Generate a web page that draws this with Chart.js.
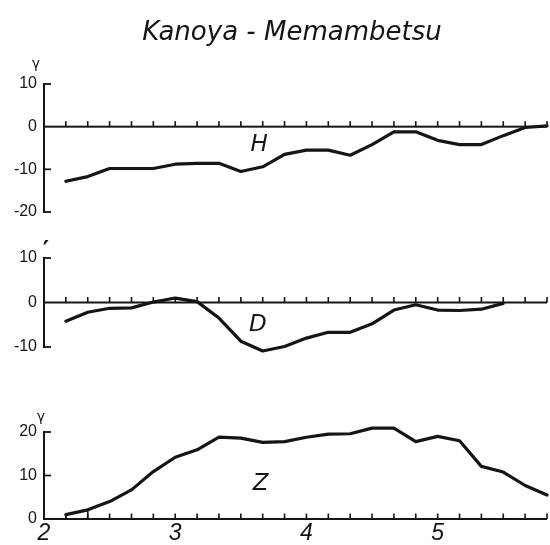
<!DOCTYPE html>
<html><head><meta charset="utf-8">
<script src="https://cdn.jsdelivr.net/npm/chart.js@4.4.1/dist/chart.umd.min.js"></script>
<style>
html,body{margin:0;padding:0;background:#fff;}
#wrap{position:relative;width:550px;height:545px;background:#fff;}
.pane{position:absolute;left:0;width:550px;}
</style></head><body>
<div id="wrap">
<div class="pane" style="top:0;height:230px"><canvas id="cH"></canvas></div>
<div class="pane" style="top:230px;height:150px"><canvas id="cD"></canvas></div>
<div class="pane" style="top:380px;height:165px"><canvas id="cZ"></canvas></div>
</div>
<script>
// ---- data ----
const chartTitle = 'Kanoya - Memambetsu';
const times = [2.1667, 2.3333, 2.5, 2.6667, 2.8333, 3.0, 3.1667, 3.3333, 3.5, 3.6667, 3.8333, 4.0,
               4.1667, 4.3333, 4.5, 4.6667, 4.8333, 5.0, 5.1667, 5.3333, 5.5, 5.6667, 5.8333];
const hValues = [-12.8, -11.7, -9.8, -9.8, -9.8, -8.8, -8.6, -8.6, -10.5, -9.4, -6.5, -5.5,
                 -5.5, -6.7, -4.2, -1.2, -1.2, -3.2, -4.2, -4.2, -2.1, -0.2, 0.2];
const dValues = [-4.2, -2.2, -1.3, -1.2, 0.1, 1.0, 0.2, -3.5, -8.7, -10.9, -9.9, -8.0,
                 -6.7, -6.7, -4.8, -1.7, -0.5, -1.7, -1.8, -1.5, -0.2];
const zValues = [1.0, 2.1, 4.0, 6.7, 10.9, 14.2, 15.9, 18.8, 18.6, 17.6, 17.8, 18.8,
                 19.5, 19.6, 20.9, 20.9, 17.8, 19.0, 18.0, 12.1, 10.8, 7.7, 5.5];
const hTicks = [10, 0, -10, -20];
const dTicks = [10, 0, -10];
const zTicks = [20, 10, 0];
const xTicks = [2, 3, 4, 5];
const xMin = 2, xMax = 5.8333;

const ink = '#151515';
const toPts = vals => vals.map((v, i) => ({x: times[i], y: v}));

const decor = {
  id: 'decor',
  afterDraw(chart, args, o) {
    const ctx = chart.ctx, xs = chart.scales.x, ys = chart.scales.y;
    ctx.save();
    ctx.fillStyle = ink;
    const vbar = (x, ya, yb, w) => ctx.fillRect(x - w / 2, Math.min(ya, yb), w, Math.abs(yb - ya));
    const hbar = (xa, xb, y, w) => ctx.fillRect(Math.min(xa, xb), y - w / 2, Math.abs(xb - xa), w);
    const x0 = xs.getPixelForValue(xMin), x1 = xs.getPixelForValue(xMax);
    const yTop = ys.getPixelForValue(o.yTicks[0]);
    const yBot = ys.getPixelForValue(o.yTicks[o.yTicks.length - 1]);
    const y0 = ys.getPixelForValue(0);
    vbar(x0, yTop - 1, yBot + 1, 2);
    o.yTicks.forEach(v => { if (v !== 0) hbar(x0, x0 + 7, ys.getPixelForValue(v), 1.8); });
    hbar(x0, x1, y0, 2);
    times.forEach(t => vbar(xs.getPixelForValue(t), y0, y0 - 5.5, 1.6));
    if (o.boxFirst) {
      [0, 1].forEach(i => vbar(xs.getPixelForValue(times[i]), ys.getPixelForValue(zValues[i]), y0, 1.6));
    }
    ctx.textAlign = 'center'; ctx.textBaseline = 'middle';
    ctx.font = o.unitFont;
    ctx.fillText(o.unit, x0 + o.unitDx, yTop + o.unitDy);
    ctx.font = 'italic 23px "DejaVu Sans", sans-serif';
    ctx.fillText(o.letter, xs.getPixelForValue(o.letterAt[0]), ys.getPixelForValue(o.letterAt[1]));
    if (o.title) {
      ctx.font = 'italic 26px "DejaVu Sans", sans-serif';
      ctx.textBaseline = 'alphabetic';
      ctx.fillText(o.title, 292, 40);
    }
    ctx.restore();
  }
};

function makePanel(id, values, yTicks, pad, decorOpts, showX) {
  return new Chart(document.getElementById(id), {
    type: 'line',
    data: { datasets: [{
      data: toPts(values), borderColor: ink, borderWidth: 3.2, pointRadius: 0,
      tension: 0, fill: false, clip: false, borderJoinStyle: 'round', borderCapStyle: 'round'
    }]},
    options: {
      responsive: true, maintainAspectRatio: false, animation: false,
      layout: { padding: pad },
      plugins: { legend: {display: false}, tooltip: {enabled: false}, title: {display: false}, decor: decorOpts },
      scales: {
        x: {
          type: 'linear', min: xMin, max: xMax, display: showX,
          grid: {display: false, drawTicks: false}, border: {display: false},
          ticks: { color: ink, padding: 1, font: {family: '"Liberation Sans", sans-serif', size: 23, style: 'italic'} },
          afterBuildTicks: s => { s.ticks = xTicks.map(v => ({value: v})); },
          afterFit: s => { if (showX) s.height = 26; }
        },
        y: {
          type: 'linear', min: Math.min(...yTicks), max: Math.max(...yTicks),
          grid: {display: false, drawTicks: false}, border: {display: false},
          ticks: { color: ink, padding: 7, font: {family: '"Liberation Sans Narrow", "Liberation Sans", sans-serif', size: 16} },
          afterBuildTicks: s => { s.ticks = yTicks.map(v => ({value: v})); },
          afterFit: s => { s.width = 44; }
        }
      }
    },
    plugins: [decor]
  });
}

makePanel('cH', hValues, hTicks, {top: 84, bottom: 18, left: 0, right: 3},
  {yTicks: hTicks, unit: 'γ', unitFont: '14px "DejaVu Sans", sans-serif', unitDx: -8, unitDy: -20,
   letter: 'H', letterAt: [3.64, -4.2], title: chartTitle}, false);
makePanel('cD', dValues, dTicks, {top: 28, bottom: 33, left: 0, right: 3},
  {yTicks: dTicks, unit: '′', unitFont: 'bold 24px "DejaVu Sans", sans-serif', unitDx: 2, unitDy: -6,
   letter: 'D', letterAt: [3.63, -5.1]}, false);
makePanel('cZ', zValues, zTicks, {top: 52, bottom: 0, left: 0, right: 3},
  {yTicks: zTicks, unit: 'γ', unitFont: '14px "DejaVu Sans", sans-serif', unitDx: -3, unitDy: -15,
   letter: 'Z', letterAt: [3.65, 8.0], boxFirst: true}, true);
</script>
</body></html>
